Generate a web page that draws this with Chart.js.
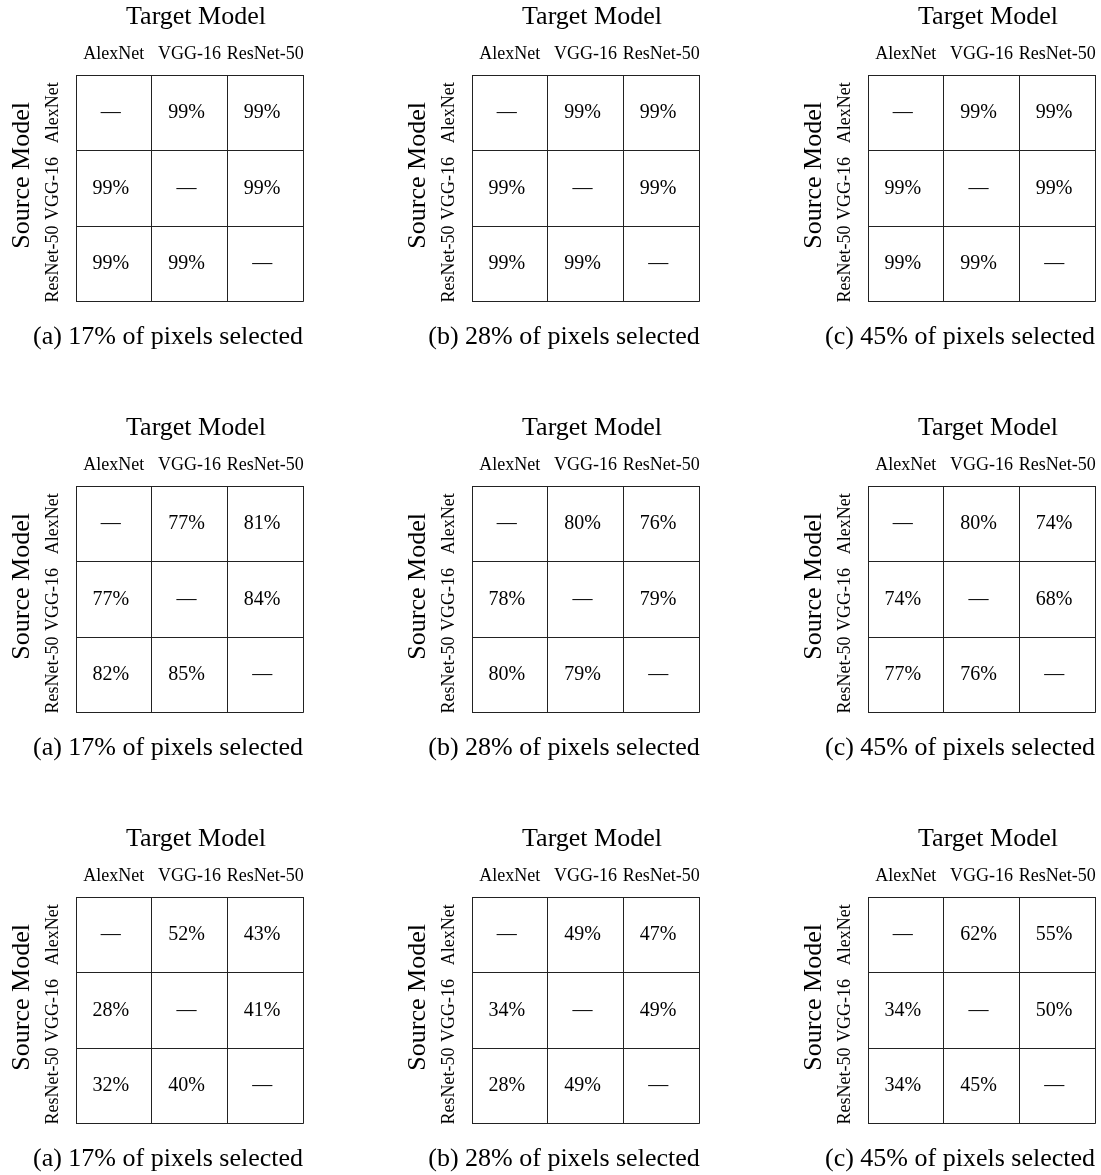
<!DOCTYPE html>
<html>
<head>
<meta charset="utf-8">
<title>Transferability across models</title>
<script src="https://cdn.jsdelivr.net/npm/chart.js@4.4.1/dist/chart.umd.min.js"></script>
<style>
  html, body { margin: 0; padding: 0; background: #fff; overflow: hidden; }
  #figure { position: relative; width: 1101px; height: 1175px; overflow: hidden; }
  #figure canvas { position: absolute; }
</style>
</head>
<body>
<div id="figure"></div>
<script>
// ─── Data ─────────────────────────────────────────────────────────────────────

const models = ['AlexNet', 'VGG-16', 'ResNet-50'];
const subLetters = ['a', 'b', 'c'];
const pixelShares = [17, 28, 45];

// rows = source model, columns = target model, null = same model (—)
const topAt17 = [[null, 99, 99], [99, null, 99], [99, 99, null]];
const topAt28 = [[null, 99, 99], [99, null, 99], [99, 99, null]];
const topAt45 = [[null, 99, 99], [99, null, 99], [99, 99, null]];

const midAt17 = [[null, 77, 81], [77, null, 84], [82, 85, null]];
const midAt28 = [[null, 80, 76], [78, null, 79], [80, 79, null]];
const midAt45 = [[null, 80, 74], [74, null, 68], [77, 76, null]];

const lowAt17 = [[null, 52, 43], [28, null, 41], [32, 40, null]];
const lowAt28 = [[null, 49, 47], [34, null, 49], [28, 49, null]];
const lowAt45 = [[null, 62, 55], [34, null, 50], [34, 45, null]];

const figureRows = [
  [topAt17, topAt28, topAt45],
  [midAt17, midAt28, midAt45],
  [lowAt17, lowAt28, lowAt45],
];

// ─── Layout ───────────────────────────────────────────────────────────────────

const PANEL_W = 336;
const PANEL_H = 353;
const COL_STEP = 396;
const ROW_STEP = 411;
const LINE = '#222';
const SERIF = "'Liberation Serif', 'Times New Roman', serif";

Chart.defaults.font.family = SERIF;
Chart.defaults.color = '#000';

// draws the percentage inside each cell, at the point the scales put it
const cellLabels = {
  id: 'cellLabels',
  afterDatasetsDraw(chart) {
    const { ctx } = chart;
    const points = chart.data.datasets[0].data;
    ctx.save();
    ctx.font = `20px ${SERIF}`;
    ctx.fillStyle = '#000';
    ctx.textAlign = 'center';
    ctx.textBaseline = 'middle';
    chart.getDatasetMeta(0).data.forEach((el, i) => {
      const v = points[i].v;
      ctx.fillText(v == null ? '—' : `${v}%`, el.x - 3, el.y);
    });
    ctx.restore();
  },
};

function buildPanel(values, rowIdx, colIdx) {
  const canvas = document.createElement('canvas');
  canvas.width = PANEL_W;
  canvas.height = PANEL_H;
  canvas.style.left = `${colIdx * COL_STEP}px`;
  canvas.style.top = `${rowIdx * ROW_STEP}px`;
  document.getElementById('figure').appendChild(canvas);

  const cells = [];
  values.forEach((row, r) => {
    row.forEach((v, c) => cells.push({ x: models[c], y: models[r], v }));
  });

  const caption = `(${subLetters[colIdx]}) ${pixelShares[colIdx]}% of pixels selected`;

  new Chart(canvas, {
    type: 'scatter',
    data: {
      datasets: [{ data: cells, pointRadius: 0, pointHoverRadius: 0 }],
    },
    options: {
      responsive: false,
      animation: false,
      events: [],
      layout: { padding: 0 },
      plugins: {
        legend: { display: false },
        tooltip: { enabled: false },
        title: {
          display: true,
          position: 'bottom',
          text: caption,
          font: { size: 26, weight: 'normal' },
          padding: { top: 20, bottom: 0 },
        },
      },
      scales: {
        x: {
          type: 'category',
          labels: models,
          position: 'top',
          offset: true,
          grid: { offset: true, drawTicks: false, color: LINE, lineWidth: 1 },
          border: { color: LINE },
          ticks: { font: { size: 18 }, padding: 9.5, minRotation: 0, maxRotation: 0, autoSkip: false },
          title: { display: true, text: '  Target Model', font: { size: 26 }, padding: { top: 2, bottom: 0 } },
          afterFit: s => { s.height = 75; },
        },
        y: {
          type: 'category',
          labels: models,
          position: 'left',
          offset: true,
          grid: { offset: true, drawTicks: false, color: LINE, lineWidth: 1 },
          border: { color: LINE },
          ticks: { font: { size: 18 }, minRotation: 90, maxRotation: 90, crossAlign: 'center', padding: -15.5, autoSkip: false },
          title: { display: true, text: '    Source Model', font: { size: 26 }, padding: { top: 7, bottom: 0 } },
          afterFit: s => { s.width = 76; },
        },
        // empty right-hand margin so the caption centres under the whole subfigure
        spacer: {
          type: 'linear',
          position: 'right',
          grid: { display: false },
          border: { display: false },
          ticks: { display: false },
          afterFit: s => { s.width = 33; },
        },
      },
    },
    plugins: [cellLabels],
  });
}

// ─── Init ─────────────────────────────────────────────────────────────────────

figureRows.forEach((panels, r) => {
  panels.forEach((values, c) => buildPanel(values, r, c));
});
</script>
</body>
</html>
